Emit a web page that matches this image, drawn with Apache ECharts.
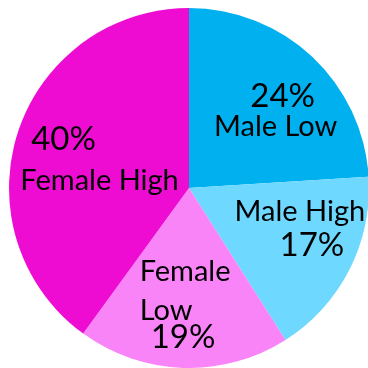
<!DOCTYPE html>
<html><head><meta charset="utf-8">
<script src="https://cdn.jsdelivr.net/npm/echarts@6/dist/echarts.min.js"></script>
<style>html,body{margin:0;padding:0;background:#fff;}#c{width:368px;height:368px;}</style>
</head><body><div id="c"></div>
<script>
const categories = ['Male Low', 'Male High', 'Female Low', 'Female High'];
const values = [24, 17, 19, 40];
const pctLabels = ['24%', '17%', '19%', '40%'];
const colors = ['#00B0EF', '#6ED8FE', '#F884F8', '#EE0CD2'];

const labelCfg = [
  { formatter: p => '{p|' + pctLabels[p.dataIndex] + '}\n{n|Male Low}', offset: [23, -9],
    rich: { p: { fontSize: 33, lineHeight: 31, padding: [0, 0, 0, 14] }, n: { fontSize: 29, lineHeight: 30 } } },
  { formatter: p => '{n|Male High}\n{p|' + pctLabels[p.dataIndex] + '}', offset: [28, -2],
    rich: { p: { fontSize: 33, lineHeight: 33, padding: [0, 0, 0, 24] }, n: { fontSize: 29, lineHeight: 34 } } },
  { formatter: p => '{f|Female}\n{l|Low}\n{p|' + pctLabels[p.dataIndex] + '}', offset: [-1, 17],
    rich: { p: { fontSize: 33, lineHeight: 21, align: 'left', padding: [0, 0, 0, 11] },
            f: { fontSize: 29, lineHeight: 46, align: 'left' }, l: { fontSize: 29, lineHeight: 32, align: 'left' } } },
  { formatter: p => '{p|' + pctLabels[p.dataIndex] + '}\n{n|Female High}', offset: [-1, 1],
    rich: { p: { fontSize: 33, lineHeight: 41, padding: [0, 72, 0, 0] }, n: { fontSize: 29, lineHeight: 42 } } }
];

const data = categories.map((c, i) => ({
  name: c, value: values[i],
  itemStyle: { color: colors[i] },
  label: Object.assign({ show: true, position: 'inside', color: '#000', fontFamily: 'Lato' }, labelCfg[i])
}));

const chart = echarts.init(document.getElementById('c'), null, { renderer: 'canvas' });
chart.setOption({
  animation: false,
  series: [{
    type: 'pie',
    center: [189, 188],
    radius: 180,
    startAngle: 90,
    clockwise: true,
    avoidLabelOverlap: false,
    labelLine: { show: false },
    itemStyle: { borderWidth: 0 },
    emphasis: { disabled: true },
    data: data
  }]
});
</script></body></html>
